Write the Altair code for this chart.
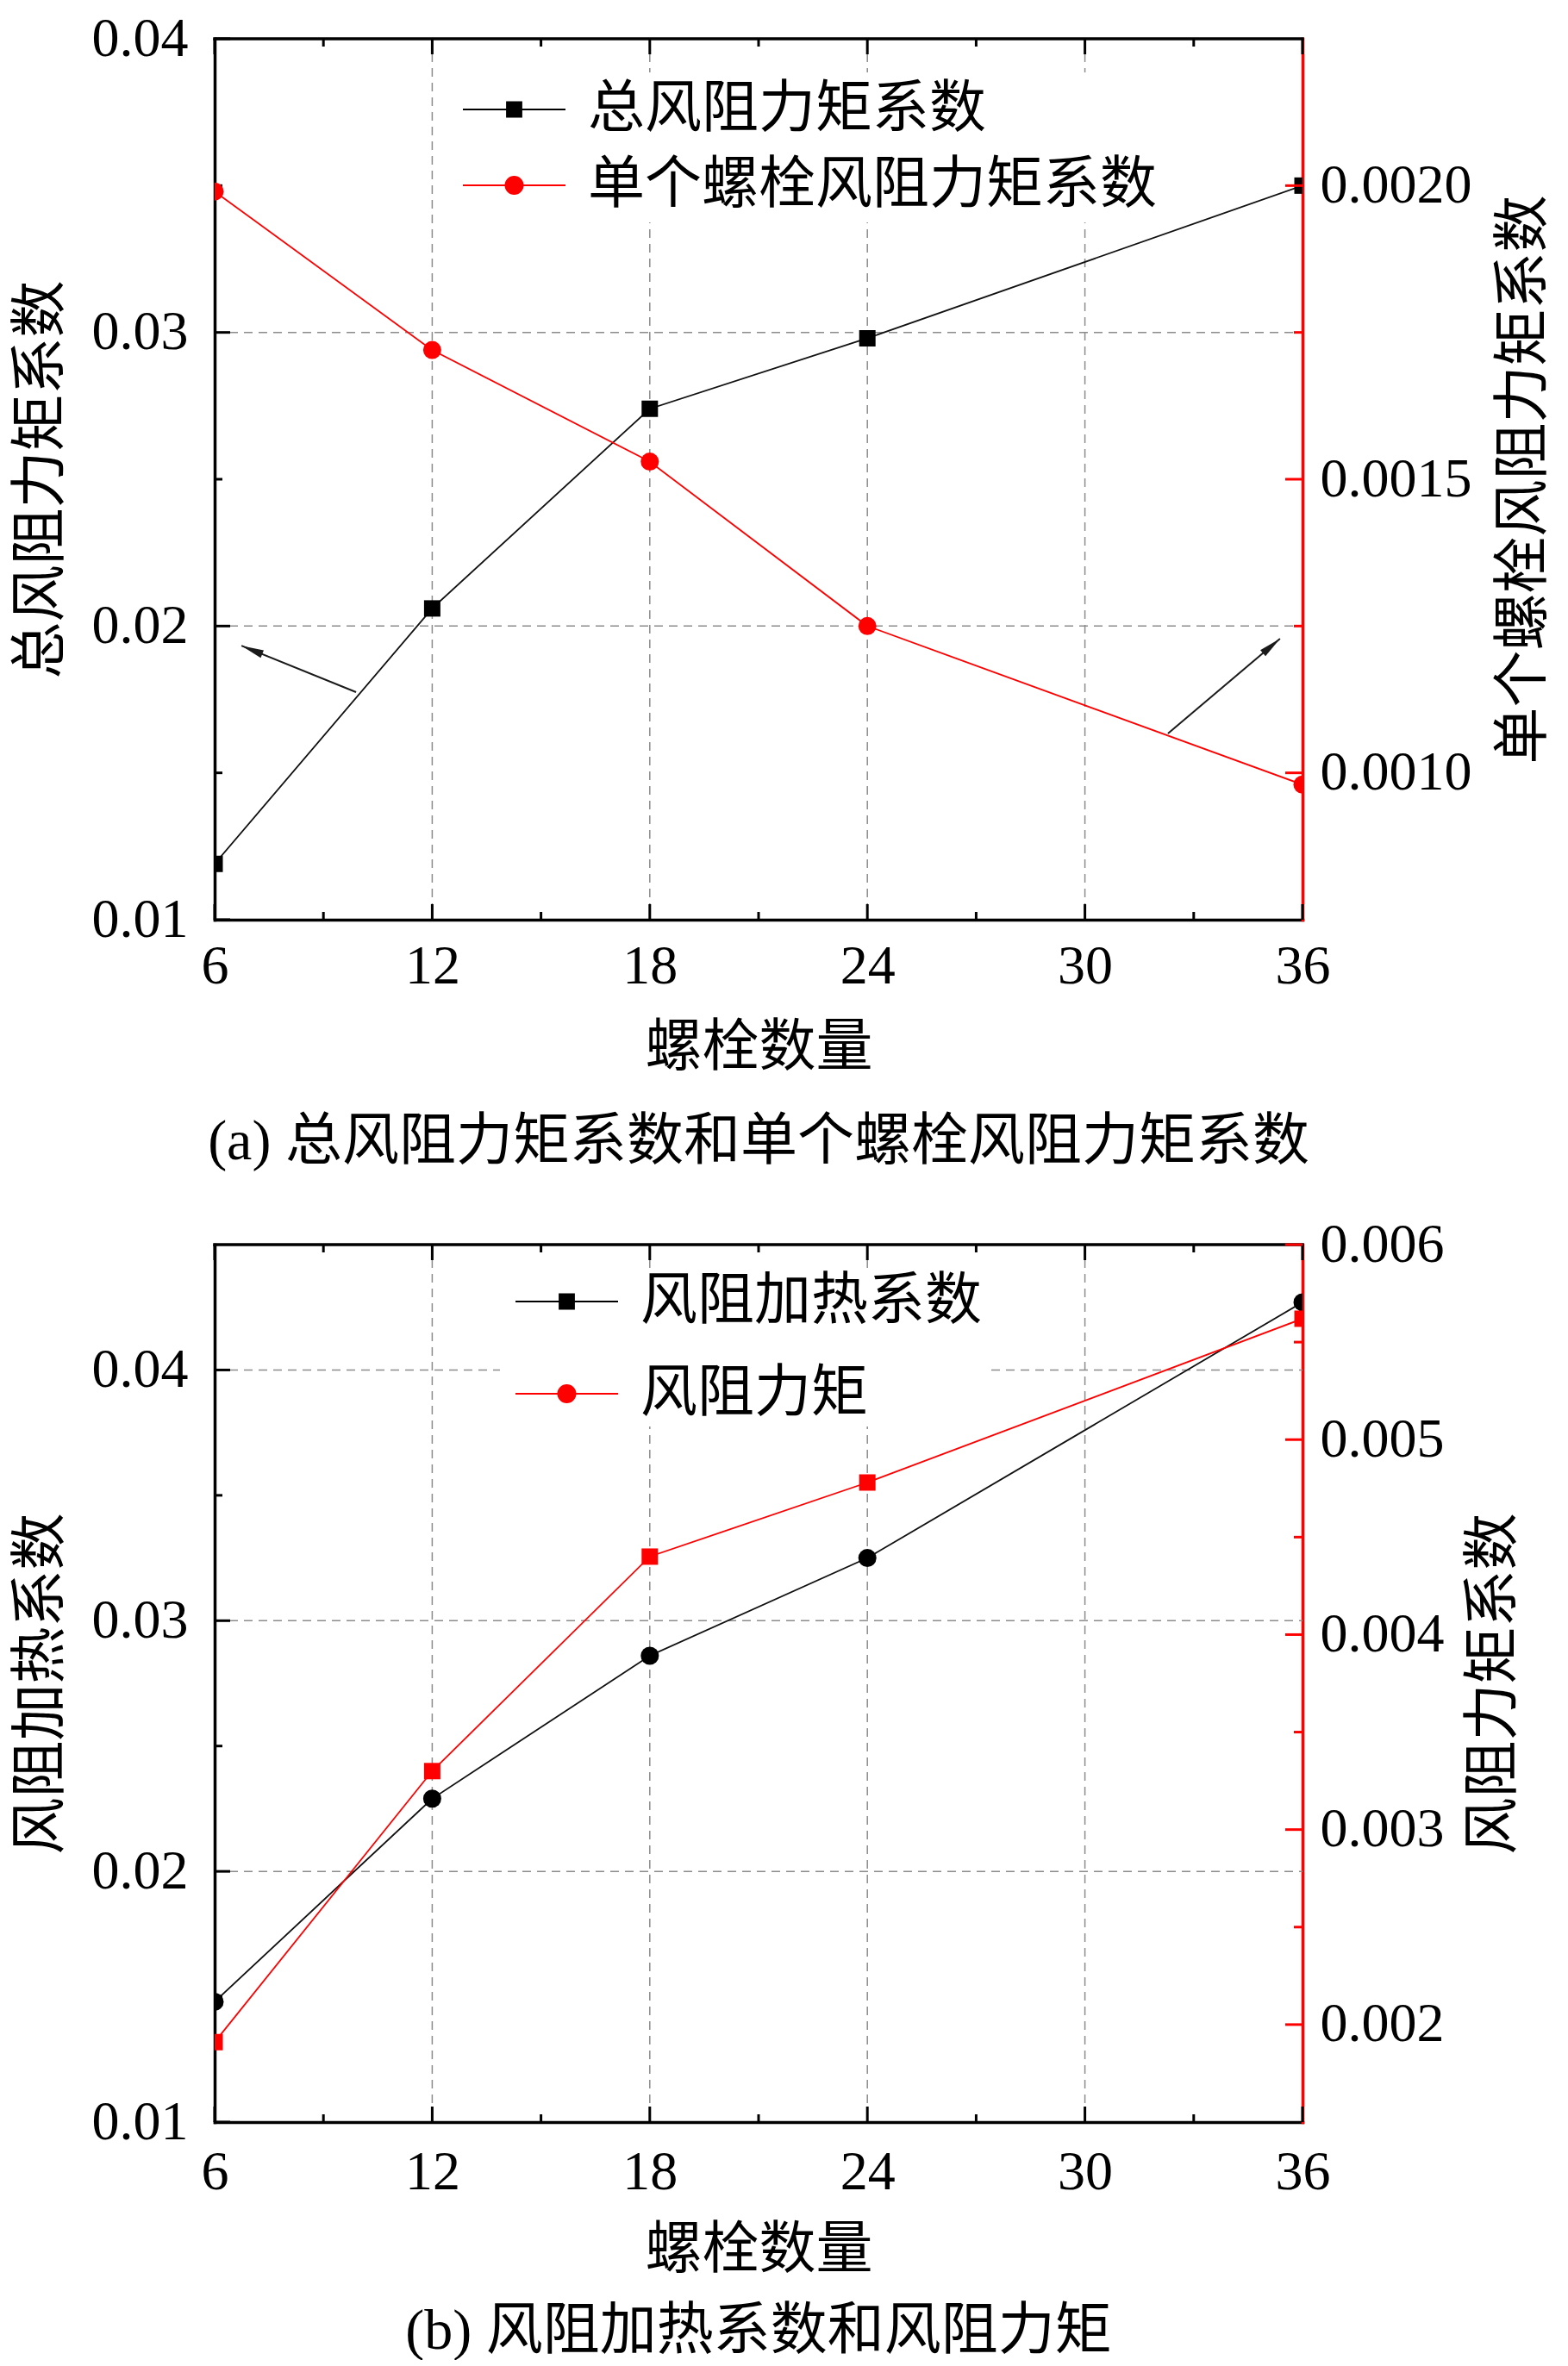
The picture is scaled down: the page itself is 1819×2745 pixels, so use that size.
import altair as alt
import pandas as pd

# ---------------- data ----------------
bolts = [6, 12, 18, 24, 36]

# (a)
total_moment = [0.0119, 0.0206, 0.0274, 0.0298, 0.0350]
single_moment = [0.00199, 0.00172, 0.00153, 0.00125, 0.00098]
# (b)
heating = [0.0148, 0.0229, 0.0286, 0.0325, 0.0427]
moment_b = [0.00191, 0.00330, 0.00440, 0.00478, 0.00562]

# axis ticks
x_major = [6, 12, 18, 24, 30, 36]
x_minor = [9, 15, 21, 27, 33]
x_grid = [12, 18, 24, 30]

a_left_major = [0.01, 0.02, 0.03, 0.04]
a_left_minor = [0.015, 0.025, 0.035]
a_left_grid = [0.02, 0.03]
a_right_major = [0.0010, 0.0015, 0.0020]
a_right_minor = [0.00125, 0.00175]

b_left_major = [0.01, 0.02, 0.03, 0.04]
b_left_minor = [0.015, 0.025, 0.035]
b_left_grid = [0.02, 0.03, 0.04]
b_right_major = [0.002, 0.003, 0.004, 0.005, 0.006]
b_right_minor = [0.0025, 0.0035, 0.0045, 0.0055]

# annotation arrows in (a) (data units of the left axis)
arrow_id = [1, 1, 2, 2]
arrow_order = [0, 1, 0, 1]
arrow_x = [9.90, 6.74, 32.29, 35.38]
arrow_y = [0.01775, 0.01933, 0.01634, 0.01957]
arrow_head_angle = [292.1, 49.8]

names_a = ["总风阻力矩系数", "单个螺栓风阻力矩系数"]
names_b = ["风阻加热系数", "风阻力矩"]

# ---------------- styling ----------------
FONT = "Liberation Serif, Noto Sans CJK SC"
NUM_FONT = "Liberation Serif"
W = 1262
BLACK = "#000000"
RED = "#ff0000"
GRID = "#8c8c8c"

# legend symbols: line with marker (custom SVG paths, unit = sqrt(size)/2)
SQ_PATH = "M-1,0H4.95M1.555,-0.42H2.395V0.42H1.555Z"
CI_PATH = "M-1,0H4.95M1.475,0A0.5,0.5,0,1,1,2.475,0A0.5,0.5,0,1,1,1.475,0Z"
HEAD_PATH = "M0,0L0.36,2L-0.36,2Z"

xs = alt.Scale(domain=[6, 36], nice=False, zero=False)


def panel(H, left_dom, right_dom, left_vals, right_vals, left_major, left_minor,
          left_grid, right_major, right_minor, left_fmt, right_fmt, left_title,
          right_title, names, marker_left, marker_right, size_left, size_right,
          legend_xy, legend_pad, legend_rowpad, x_lab_pad, x_title_pad,
          r_title_pad, caption, caption_offset, arrows=False):
    ysl = alt.Scale(domain=left_dom, nice=False, zero=False)
    ysr = alt.Scale(domain=right_dom, nice=False, zero=False)

    x_axis = alt.Axis(values=x_major, format="d", labelPadding=x_lab_pad,
                      titlePadding=x_title_pad, orient="bottom")
    yl_axis = alt.Axis(values=left_major, format=left_fmt, orient="left",
                       labelPadding=31, titlePadding=25)
    yr_axis = alt.Axis(values=right_major, format=right_fmt, orient="right",
                       domainColor=RED, labelPadding=20, titlePadding=r_title_pad,
                       titleAngle=270, titleBaseline="top")

    def X(f):
        return alt.X(f, scale=xs, title="螺栓数量", axis=x_axis)

    def YL(f):
        return alt.Y(f, scale=ysl, title=left_title, axis=yl_axis)

    def YR(f):
        return alt.Y(f, scale=ysr, title=right_title, axis=yr_axis)

    df = pd.DataFrame({"n": bolts, "l": left_vals, "r": right_vals})

    # grid
    vgrid = alt.Chart(pd.DataFrame({"g": x_grid})).mark_rule(
        color=GRID, strokeWidth=1.5, strokeDash=[10, 7]).encode(
        x=X("g:Q"), y=alt.value(0), y2=alt.value(H))
    hgrid = alt.Chart(pd.DataFrame({"g": left_grid})).mark_rule(
        color=GRID, strokeWidth=1.5, strokeDash=[10, 7]).encode(
        y=YL("g:Q"), x=alt.value(0), x2=alt.value(W))

    line_l = alt.Chart(df).mark_line(color="#111111", strokeWidth=1.8, clip=True).encode(
        x=X("n:Q"), y=YL("l:Q"))
    pts_l = alt.Chart(df).mark_point(shape=marker_left, size=size_left, filled=True,
                                     color=BLACK, opacity=1, clip=True).encode(
        x=X("n:Q"), y=YL("l:Q"))

    def xt(vals, length, top):
        enc = dict(x=X("t:Q"))
        if top:
            enc.update(y=alt.value(0), y2=alt.value(length))
        else:
            enc.update(y=alt.value(H), y2=alt.value(H - length))
        return alt.Chart(pd.DataFrame({"t": vals})).mark_rule(
            color=BLACK, strokeWidth=3).encode(**enc)

    def ylt(vals, length):
        return alt.Chart(pd.DataFrame({"t": vals})).mark_rule(
            color=BLACK, strokeWidth=3).encode(
            y=YL("t:Q"), x=alt.value(0), x2=alt.value(length))

    def yrt(vals, length):
        return alt.Chart(pd.DataFrame({"t": vals})).mark_rule(
            color=RED, strokeWidth=3).encode(
            y=YR("t:Q"), x=alt.value(W), x2=alt.value(W - length))

    top_border = alt.Chart(pd.DataFrame({"k": [0]})).mark_rule(
        color=BLACK, strokeWidth=3.5, strokeCap="square").encode(
        x=alt.value(0), x2=alt.value(W), y=alt.value(0))

    leg = alt.Legend(title=None, orient="none", legendX=legend_xy[0], legendY=legend_xy[1],
                     padding=legend_pad, fillColor="white", symbolSize=1600,
                     symbolStrokeWidth=2, labelFont=FONT, labelFontSize=66,
                     labelColor="black", labelOffset=92, labelLimit=3000,
                     rowPadding=legend_rowpad, zindex=1, symbolOpacity=1)
    legend_layer = alt.Chart(pd.DataFrame({"s": names})).transform_filter("false").mark_point(
        filled=True, opacity=1).encode(
        fill=alt.Fill("s:N", scale=alt.Scale(domain=names, range=[BLACK, RED]), legend=leg),
        stroke=alt.Stroke("s:N", scale=alt.Scale(domain=names, range=[BLACK, RED]), legend=leg),
        shape=alt.Shape("s:N", scale=alt.Scale(domain=names, range=[SQ_PATH, CI_PATH]), legend=leg))

    left_layers = [vgrid, hgrid, line_l, pts_l]
    if arrows:
        adf = pd.DataFrame({"id": arrow_id, "o": arrow_order, "ax": arrow_x, "ay": arrow_y})
        hdf = adf[adf["o"] == 1].reset_index(drop=True).assign(ang=arrow_head_angle)
        a_lines = alt.Chart(adf).mark_line(color="#1a1a1a", strokeWidth=2).encode(
            x=X("ax:Q"), y=YL("ay:Q"), detail="id:N", order="o:Q")
        a_heads = alt.Chart(hdf).mark_point(shape=HEAD_PATH, size=676, filled=True,
                                            color="#1a1a1a", opacity=1).encode(
            x=X("ax:Q"), y=YL("ay:Q"), angle=alt.Angle("ang:Q", scale=None))
        left_layers += [a_lines, a_heads]
    left_layers += [xt(x_major, 18, False), xt(x_minor, 9, False),
                    xt(x_major, 18, True), xt(x_minor, 9, True),
                    ylt(left_major, 18), ylt(left_minor, 9), top_border, legend_layer]
    left = alt.layer(*left_layers)

    line_r = alt.Chart(df).mark_line(color=RED, strokeWidth=1.8, clip=True).encode(
        x=X("n:Q"), y=YR("r:Q"))
    pts_r = alt.Chart(df).mark_point(shape=marker_right, size=size_right, filled=True,
                                     color=RED, opacity=1, clip=True).encode(
        x=X("n:Q"), y=YR("r:Q"))
    right = alt.layer(line_r, pts_r, yrt(right_major, 20), yrt(right_minor, 10))

    return alt.layer(left, right).resolve_scale(y="independent").properties(
        width=W, height=H,
        title=alt.TitleParams(caption, orient="bottom", anchor="middle", frame="group",
                              offset=caption_offset, font=FONT, fontSize=66,
                              fontWeight="normal", color="black", baseline="top"))


chart_a = panel(
    H=1022, left_dom=[0.01, 0.04], right_dom=[0.00075, 0.00225],
    left_vals=total_moment, right_vals=single_moment,
    left_major=a_left_major, left_minor=a_left_minor, left_grid=a_left_grid,
    right_major=a_right_major, right_minor=a_right_minor,
    left_fmt=".2f", right_fmt=".4f",
    left_title="总风阻力矩系数", right_title="单个螺栓风阻力矩系数",
    names=names_a, marker_left="square", marker_right="circle",
    size_left=361, size_right=441,
    legend_xy=(265, 39), legend_pad=10, legend_rowpad=22,
    x_lab_pad=22, x_title_pad=30, r_title_pad=28,
    caption="(a) 总风阻力矩系数和单个螺栓风阻力矩系数", caption_offset=45, arrows=True)

chart_b = panel(
    H=1018, left_dom=[0.01, 0.045], right_dom=[0.0015, 0.006],
    left_vals=heating, right_vals=moment_b,
    left_major=b_left_major, left_minor=b_left_minor, left_grid=b_left_grid,
    right_major=b_right_major, right_minor=b_right_minor,
    left_fmt=".2f", right_fmt=".3f",
    left_title="风阻加热系数", right_title="风阻力矩系数",
    names=names_b, marker_left="circle", marker_right="square",
    size_left=441, size_right=361,
    legend_xy=(331, 28), legend_pad=5, legend_rowpad=41,
    x_lab_pad=26, x_title_pad=26, r_title_pad=25,
    caption="(b) 风阻加热系数和风阻力矩", caption_offset=30)

chart = alt.vconcat(chart_a, chart_b, spacing=54).resolve_scale(
    fill="independent", stroke="independent", shape="independent", x="independent"
).resolve_legend(fill="independent", stroke="independent", shape="independent").properties(
    padding={"top": 5, "left": 6, "right": 0, "bottom": 0}
).configure_view(stroke=None).configure_axis(
    labelFont=NUM_FONT, labelFontSize=64, labelColor="black",
    titleFont=FONT, titleFontSize=66, titleFontWeight="normal", titleColor="black",
    ticks=False, tickSize=0, domainColor="black", domainWidth=3.5, domainCap="square",
    grid=False, labelFlush=False, labelOverlap=False
)

chart.save("out.html", embed_options={"renderer": "svg", "actions": False})
